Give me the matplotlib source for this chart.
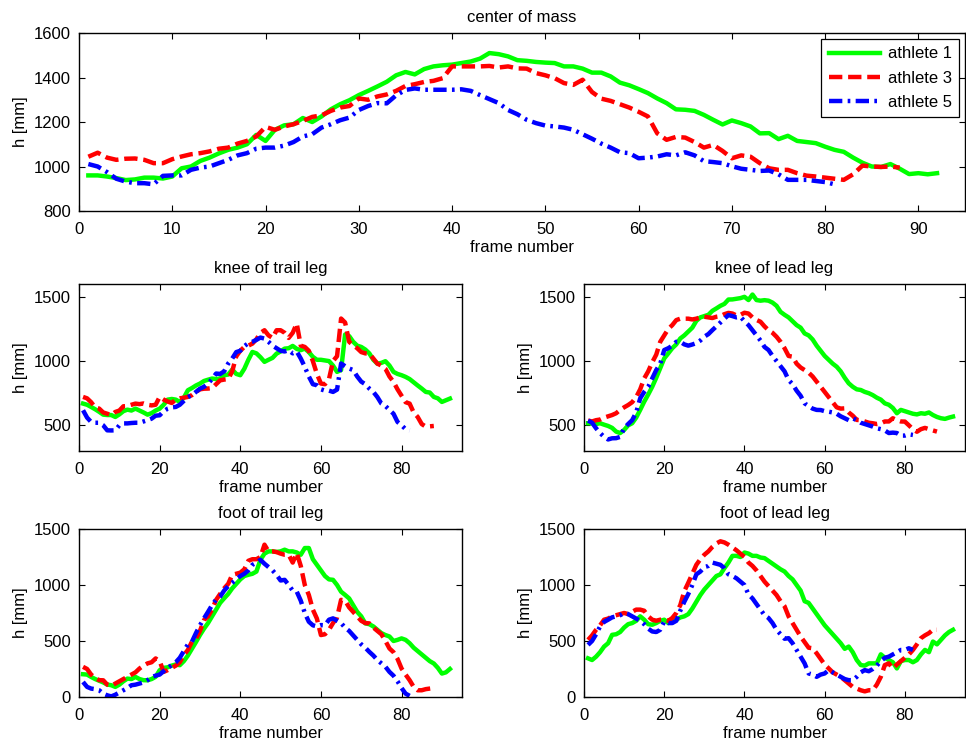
import numpy as np
import matplotlib
matplotlib.use("Agg")
import matplotlib.pyplot as plt

plt.rcParams['font.family'] = ['Liberation Sans', 'DejaVu Sans']
plt.rcParams['font.size'] = 12

# heights in mm per frame
com_a1 = [960, 960, 955, 948, 939, 942, 950, 950, 946, 955,
          992, 1000, 1025, 1040, 1059, 1075, 1085, 1100, 1142, 1115,
          1165, 1185, 1190, 1218, 1200, 1225, 1257, 1280, 1298, 1321,
          1340, 1360, 1381, 1410, 1425, 1414, 1438, 1450, 1455, 1458,
          1465, 1472, 1485, 1510, 1505, 1495, 1478, 1475, 1470, 1467,
          1465, 1450, 1450, 1440, 1422, 1422, 1405, 1377, 1365, 1348,
          1330, 1306, 1285, 1257, 1255, 1250, 1232, 1210, 1189, 1207,
          1195, 1180, 1149, 1150, 1123, 1138, 1115, 1110, 1105, 1089,
          1075, 1066, 1040, 1017, 1000, 998, 1011, 990, 966, 970,
          965, 970]
com_a3 = [1044, 1062, 1040, 1030, 1035, 1036, 1030, 1015, 1015, 1033,
          1045, 1055, 1060, 1068, 1080, 1085, 1103, 1115, 1135, 1178,
          1165, 1180, 1190, 1205, 1223, 1230, 1250, 1265, 1272, 1306,
          1300, 1315, 1324, 1340, 1362, 1370, 1380, 1385, 1397, 1450,
          1450, 1450, 1450, 1452, 1445, 1450, 1441, 1440, 1420, 1410,
          1397, 1375, 1367, 1390, 1335, 1305, 1295, 1280, 1265, 1246,
          1225, 1149, 1120, 1133, 1130, 1110, 1085, 1097, 1070, 1037,
          1050, 1044, 1015, 992, 985, 985, 970, 959, 955, 950,
          945, 940, 965, 1004, 1000, 998, 1000, 995]
com_a5 = [1011, 1000, 975, 945, 932, 925, 925, 920, 958, 960,
          960, 985, 995, 1000, 1015, 1030, 1050, 1060, 1080, 1085,
          1085, 1094, 1110, 1135, 1145, 1175, 1190, 1208, 1220, 1254,
          1272, 1285, 1284, 1320, 1344, 1351, 1345, 1345, 1345, 1345,
          1347, 1340, 1321, 1303, 1285, 1254, 1235, 1210, 1195, 1184,
          1180, 1175, 1165, 1145, 1125, 1103, 1085, 1064, 1060, 1037,
          1040, 1045, 1055, 1050, 1064, 1050, 1024, 1020, 1015, 1001,
          990, 985, 980, 982, 965, 940, 940, 940, 935, 930,
          920]

knee_trail_a1 = [669, 660, 643, 625, 605, 583, 580, 580, 565, 585,
                 610, 622, 615, 630, 615, 600, 583, 595, 615, 630,
                 660, 700, 705, 700, 682, 715, 773, 790, 810, 825,
                 845, 855, 864, 860, 865, 890, 895, 934, 900, 890,
                 940, 1010, 1071, 1060, 1030, 994, 1010, 1025, 1058, 1075,
                 1097, 1100, 1118, 1095, 1085, 1097, 1070, 1033, 1010, 1010,
                 1005, 1000, 965, 916, 930, 1207, 1195, 1150, 1120, 1110,
                 1090, 1060, 1010, 980, 986, 999, 965, 916, 900, 890,
                 877, 860, 835, 810, 786, 760, 755, 721, 710, 682,
                 695, 708]
knee_trail_a3 = [721, 710, 680, 640, 630, 600, 590, 580, 604, 615,
                 648, 650, 660, 669, 665, 670, 660, 655, 660, 721,
                 700, 685, 674, 700, 710, 715, 721, 735, 760, 780,
                 785, 786, 790, 820, 850, 856, 860, 920, 1038, 1080,
                 1110, 1120, 1136, 1170, 1220, 1240, 1200, 1180, 1240, 1240,
                 1220, 1180, 1220, 1292, 1120, 1110, 1080, 1000, 900, 825,
                 820, 860, 1000, 1038, 1331, 1300, 1150, 1123, 1100, 1070,
                 1060, 1058, 1020, 980, 965, 940, 880, 838, 780, 730,
                 680, 669, 600, 565, 510, 490, 492, 495]
knee_trail_a5 = [617, 560, 526, 520, 520, 500, 461, 460, 461, 500,
                 515, 515, 518, 520, 520, 530, 540, 552, 575, 578,
                 610, 630, 640, 643, 660, 690, 720, 734, 760, 785,
                 800, 825, 860, 903, 900, 920, 981, 1020, 1070, 1080,
                 1116, 1140, 1150, 1165, 1183, 1175, 1150, 1120, 1100, 1080,
                 1075, 1084, 1060, 1075, 1020, 955, 880, 820, 812, 780,
                 770, 770, 760, 778, 981, 960, 942, 930, 880, 840,
                 820, 786, 760, 720, 669, 650, 620, 590, 526, 500,
                 470, 460]

knee_lead_a1 = [516, 515, 510, 516, 505, 495, 480, 451, 440, 464,
                500, 516, 560, 620, 684, 740, 800, 870, 945, 1021,
                1060, 1100, 1130, 1176, 1200, 1230, 1260, 1313, 1340, 1350,
                1360, 1391, 1410, 1430, 1445, 1479, 1480, 1485, 1490, 1500,
                1475, 1518, 1475, 1470, 1474, 1470, 1455, 1430, 1383, 1360,
                1340, 1310, 1280, 1260, 1215, 1200, 1168, 1120, 1080, 1040,
                1010, 980, 956, 920, 870, 827, 800, 780, 775, 760,
                750, 735, 715, 700, 671, 660, 635, 594, 620, 610,
                600, 590, 585, 594, 590, 600, 580, 565, 555, 550,
                560, 568]
knee_lead_a3 = [537, 530, 540, 545, 560, 570, 580, 594, 620, 640,
                658, 680, 720, 780, 865, 920, 990, 1050, 1150, 1200,
                1250, 1280, 1319, 1330, 1330, 1330, 1324, 1330, 1340, 1345,
                1340, 1335, 1345, 1350, 1365, 1375, 1370, 1355, 1360, 1376,
                1370, 1340, 1320, 1306, 1270, 1240, 1220, 1189, 1150, 1100,
                1040, 1034, 980, 950, 930, 910, 880, 840, 800, 760,
                720, 680, 640, 630, 632, 600, 575, 542, 540, 530,
                520, 516, 510, 515, 530, 530, 555, 540, 530, 529,
                500, 470, 450, 470, 480, 470, 460, 451]
knee_lead_a5 = [537, 520, 477, 440, 410, 390, 399, 400, 410, 477,
                510, 540, 600, 710, 760, 800, 865, 930, 980, 1086,
                1100, 1120, 1150, 1150, 1130, 1120, 1129, 1140, 1160, 1190,
                1210, 1241, 1270, 1300, 1330, 1358, 1350, 1340, 1345, 1310,
                1280, 1240, 1200, 1160, 1110, 1086, 1040, 1000, 960, 920,
                853, 820, 770, 730, 671, 650, 630, 620, 619, 610,
                606, 600, 590, 570, 555, 540, 555, 540, 520, 510,
                500, 490, 477, 470, 460, 440, 443, 440, 420, 420,
                430, 425]

foot_trail_a1 = [203, 200, 179, 160, 145, 130, 111, 105, 90, 110,
                 140, 164, 160, 179, 160, 150, 149, 160, 180, 239,
                 260, 265, 280, 290, 284, 320, 370, 430, 490, 553,
                 610, 660, 720, 780, 840, 881, 920, 970, 1010, 1050,
                 1080, 1091, 1100, 1120, 1225, 1280, 1300, 1300, 1295, 1300,
                 1315, 1300, 1300, 1290, 1270, 1330, 1330, 1230, 1180, 1130,
                 1080, 1050, 1046, 1000, 940, 911, 880, 820, 760, 720,
                 657, 650, 630, 600, 570, 553, 540, 500, 510, 523,
                 510, 480, 440, 410, 380, 350, 320, 299, 260, 209,
                 220, 250]
foot_trail_a3 = [269, 250, 200, 170, 150, 149, 110, 100, 120, 140,
                 160, 180, 200, 220, 254, 280, 300, 310, 344, 320,
                 224, 240, 260, 280, 310, 374, 420, 493, 520, 590,
                 687, 720, 780, 867, 920, 970, 1010, 1091, 1100, 1110,
                 1140, 1216, 1230, 1230, 1250, 1360, 1300, 1300, 1294, 1280,
                 1270, 1270, 1200, 1285, 1170, 1000, 911, 780, 700, 553,
                 560, 600, 660, 710, 867, 860, 800, 760, 720, 680,
                 660, 657, 620, 590, 560, 500, 433, 400, 340, 254,
                 200, 150, 90, 60, 60, 70, 75, 80]
foot_trail_a5 = [134, 90, 75, 70, 60, 30, 15, 5, 20, 40,
                 60, 80, 105, 110, 120, 130, 150, 179, 190, 200,
                 230, 260, 284, 310, 350, 410, 470, 493, 570, 640,
                 702, 760, 820, 870, 896, 950, 990, 1020, 1050, 1080,
                 1100, 1130, 1180, 1200, 1225, 1190, 1160, 1130, 1090, 1040,
                 1046, 1000, 950, 941, 860, 750, 672, 640, 630, 642,
                 640, 690, 702, 680, 660, 618, 590, 550, 510, 470,
                 440, 403, 370, 330, 300, 270, 224, 190, 140, 80,
                 30, 10]

foot_lead_a1 = [345, 330, 360, 400, 450, 480, 555, 560, 580, 620,
                650, 660, 680, 720, 690, 650, 645, 660, 680, 690,
                660, 680, 690, 710, 720, 740, 790, 850, 910, 960,
                1000, 1040, 1080, 1095, 1150, 1200, 1260, 1260, 1250, 1290,
                1280, 1260, 1260, 1245, 1240, 1215, 1190, 1165, 1140, 1120,
                1080, 1050, 1000, 950, 855, 840, 790, 740, 690, 640,
                600, 560, 520, 480, 430, 450, 400, 330, 285, 280,
                300, 300, 300, 381, 350, 330, 310, 255, 320, 330,
                330, 310, 330, 380, 420, 400, 495, 470, 510, 550,
                580, 600]
foot_lead_a3 = [510, 550, 600, 640, 690, 700, 720, 730, 740, 750,
                740, 760, 780, 780, 770, 720, 690, 681, 690, 690,
                680, 705, 750, 820, 945, 1020, 1100, 1180, 1230, 1270,
                1300, 1340, 1371, 1390, 1380, 1360, 1335, 1310, 1280, 1250,
                1200, 1170, 1130, 1080, 1030, 990, 950, 910, 855, 810,
                720, 660, 600, 540, 490, 440, 435, 390, 340, 290,
                255, 220, 200, 180, 150, 120, 90, 75, 60, 50,
                60, 60, 110, 180, 285, 300, 255, 290, 320, 350,
                380, 420, 470, 525, 550, 570, 600, 600]
foot_lead_a5 = [465, 500, 560, 630, 670, 690, 711, 720, 730, 750,
                740, 720, 700, 680, 650, 610, 585, 580, 600, 675,
                660, 660, 680, 771, 850, 920, 1000, 1095, 1120, 1160,
                1170, 1200, 1190, 1180, 1150, 1095, 1080, 1060, 1030, 1000,
                915, 880, 830, 780, 730, 705, 660, 600, 560, 520,
                525, 480, 420, 360, 300, 210, 200, 180, 200, 210,
                240, 220, 200, 180, 160, 150, 150, 180, 220, 240,
                230, 250, 280, 320, 350, 360, 380, 400, 420, 420,
                435, 420]

athletes = ['athlete 1', 'athlete 3', 'athlete 5']
colors = ['#00ff00', '#ff0000', '#0000ff']
dashes = [None, (3.0, 1.3), (3.0, 1.2, 0.6, 1.2)]


def draw(ax, series, title, ylim, yticks, xticks):
    for vals, lab, col, ds in zip(series, athletes, colors, dashes):
        frames = np.arange(1, len(vals) + 1)
        line, = ax.plot(frames, vals, color=col, lw=3.2, label=lab)
        if ds is not None:
            line.set_dashes(ds)
    ax.set_xlim(0, 95)
    ax.set_ylim(*ylim)
    ax.set_xticks(xticks)
    ax.set_yticks(yticks)
    ax.tick_params(direction='in', length=4, width=0.8, top=True, right=True,
                   labelsize=12, pad=6)
    ax.tick_params(axis='x', pad=8)
    for s in ax.spines.values():
        s.set_linewidth(1.0)
    ax.set_title(title, fontsize=12, pad=8)
    ax.set_xlabel('frame number', fontsize=12, labelpad=2)
    ax.set_ylabel('h [mm]', fontsize=12, labelpad=4)


fig = plt.figure(figsize=(9.66, 7.44), dpi=100)

ax_com = fig.add_axes([0.0818, 0.7164, 0.9172, 0.2392])
draw(ax_com, [com_a1, com_a3, com_a5], 'center of mass', (800, 1600),
     np.arange(800, 1601, 200), np.arange(0, 91, 10))
leg = ax_com.legend(loc='upper right', fontsize=12, fancybox=False,
                    edgecolor='black', framealpha=1, handlelength=3.1,
                    handletextpad=0.45, borderaxespad=0.35,
                    labelspacing=0.55, borderpad=0.45)
leg.get_frame().set_linewidth(0.9)

ax_kt = fig.add_axes([0.0818, 0.3938, 0.3965, 0.2245])
draw(ax_kt, [knee_trail_a1, knee_trail_a3, knee_trail_a5], 'knee of trail leg',
     (300, 1600), [500, 1000, 1500], np.arange(0, 81, 20))

ax_kl = fig.add_axes([0.6046, 0.3938, 0.3944, 0.2245])
draw(ax_kl, [knee_lead_a1, knee_lead_a3, knee_lead_a5], 'knee of lead leg',
     (300, 1600), [500, 1000, 1500], np.arange(0, 81, 20))

ax_ft = fig.add_axes([0.0818, 0.0632, 0.3965, 0.2258])
draw(ax_ft, [foot_trail_a1, foot_trail_a3, foot_trail_a5], 'foot of trail leg',
     (0, 1500), [0, 500, 1000, 1500], np.arange(0, 81, 20))

ax_fl = fig.add_axes([0.6046, 0.0632, 0.3944, 0.2258])
draw(ax_fl, [foot_lead_a1, foot_lead_a3, foot_lead_a5], 'foot of lead leg',
     (0, 1500), [0, 500, 1000, 1500], np.arange(0, 81, 20))

fig.savefig('out.png', dpi=100)
